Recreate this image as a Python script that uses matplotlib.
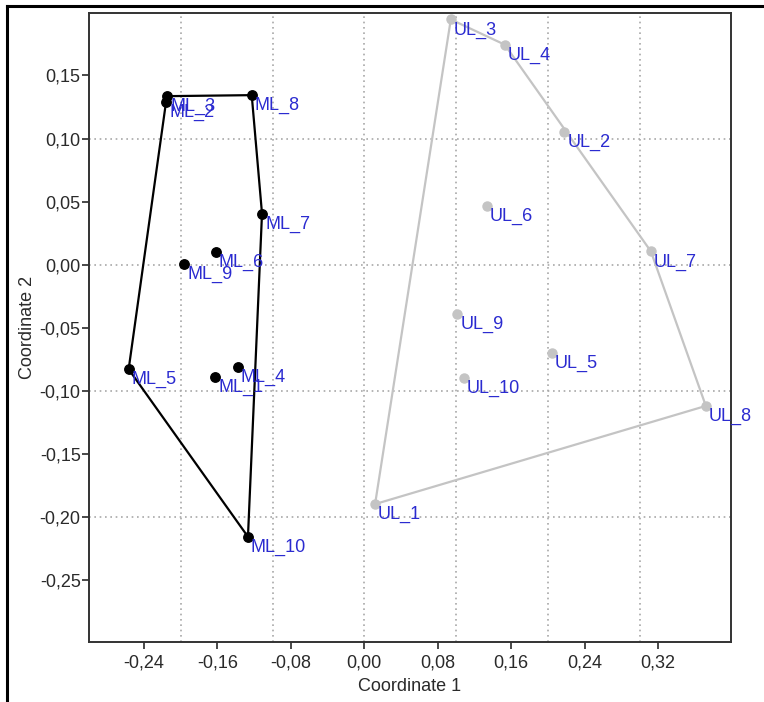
import matplotlib
matplotlib.use("Agg")
import matplotlib.pyplot as plt
from matplotlib.ticker import FixedLocator, FuncFormatter
from matplotlib.lines import Line2D
import numpy as np

plt.rcParams['font.family'] = ['Liberation Sans', 'DejaVu Sans']

# group ML (black)
ml_names = ["ML_1", "ML_2", "ML_3", "ML_4", "ML_5", "ML_6", "ML_7", "ML_8", "ML_9", "ML_10"]
ml_x = [-0.1627, -0.2161, -0.2147, -0.1380, -0.2568, -0.1620, -0.1115, -0.1227, -0.1962, -0.1268]
ml_y = [-0.0887, 0.1288, 0.1336, -0.0807, -0.0828, 0.0101, 0.0405, 0.1344, 0.0008, -0.2156]

# group UL (grey)
ul_names = ["UL_1", "UL_2", "UL_3", "UL_4", "UL_5", "UL_6", "UL_7", "UL_8", "UL_9", "UL_10"]
ul_x = [0.0117, 0.2180, 0.0942, 0.1530, 0.2042, 0.1334, 0.3122, 0.3721, 0.1014, 0.1087]
ul_y = [-0.1897, 0.1050, 0.1944, 0.1744, -0.0701, 0.0468, 0.0106, -0.1119, -0.0391, -0.0899]

x_ticks = [-0.24, -0.16, -0.08, 0.00, 0.08, 0.16, 0.24, 0.32]
y_ticks = [-0.25, -0.20, -0.15, -0.10, -0.05, 0.00, 0.05, 0.10, 0.15]
# grid is on a 0.1 step, not on the tick positions
x_grid = [-0.2, -0.1, 0.0, 0.1, 0.2, 0.3]
y_grid = [-0.2, -0.1, 0.0, 0.1]


def hull(xs, ys):
    # monotone chain convex hull, returns closed polygon
    pts = sorted(zip(xs, ys))

    def cross(o, a, b):
        return (a[0] - o[0]) * (b[1] - o[1]) - (a[1] - o[1]) * (b[0] - o[0])

    lower, upper = [], []
    for p in pts:
        while len(lower) >= 2 and cross(lower[-2], lower[-1], p) <= 0:
            lower.pop()
        lower.append(p)
    for p in reversed(pts):
        while len(upper) >= 2 and cross(upper[-2], upper[-1], p) <= 0:
            upper.pop()
        upper.append(p)
    h = lower[:-1] + upper[:-1]
    h.append(h[0])
    return [p[0] for p in h], [p[1] for p in h]


fig = plt.figure(figsize=(7.64, 7.02), dpi=100)
ax = fig.add_axes([89 / 764, 1 - 642 / 702, (731 - 89) / 764, (642 - 13) / 702])

label_col = '#2b2bd0'
grid_kw = dict(color='#a8a8a8', linestyle=(0, (1, 2.2)), lw=1.2, zorder=1)
for gx in x_grid:
    ax.axvline(gx, **grid_kw)
for gy in y_grid:
    ax.axhline(gy, **grid_kw)

hx, hy = hull(ml_x, ml_y)
ax.plot(hx, hy, color='black', lw=1.6, zorder=3)
ax.plot(ml_x, ml_y, 'o', color='black', ms=6.8, zorder=4)

hx, hy = hull(ul_x, ul_y)
ax.plot(hx, hy, color='#c4c4c4', lw=1.6, zorder=3)
ax.plot(ul_x, ul_y, 'o', color='#c4c4c4', ms=6.5, zorder=4)

for n, x, y in zip(ml_names + ul_names, ml_x + ul_x, ml_y + ul_y):
    ax.annotate(n, (x, y), xytext=(3, -2), textcoords='offset pixels',
                ha='left', va='top', color=label_col, fontsize=13, zorder=5)

ax.set_xlim(-0.300, 0.3995)
ax.set_ylim(-0.299, 0.1995)

ax.xaxis.set_major_locator(FixedLocator(x_ticks))
ax.yaxis.set_major_locator(FixedLocator(y_ticks))
fmt = FuncFormatter(lambda v, p: ("%.2f" % v).replace('.', ',').replace('-0,00', '0,00'))
ax.xaxis.set_major_formatter(fmt)
ax.yaxis.set_major_formatter(fmt)

ax.tick_params(which='major', direction='out', length=5, width=1.2,
               labelsize=13, colors='#2a2a2a', pad=1)
ax.tick_params(axis='x', which='major', pad=4)

for s in ax.spines.values():
    s.set_color('#333333')
    s.set_linewidth(1.4)

ax.set_xlabel("Coordinate 1", fontsize=13, color='#2a2a2a', labelpad=5)
ax.set_ylabel("Coordinate 2", fontsize=13, color='#2a2a2a', labelpad=3)

# outer screenshot frame (top and left only)
fig.add_artist(Line2D([7 / 764, 7 / 764], [0, 1 - 6 / 702], color='black', lw=2.2))
fig.add_artist(Line2D([7 / 764, 1], [1 - 6 / 702, 1 - 6 / 702], color='black', lw=2.2))

fig.savefig("out.png", dpi=100)
